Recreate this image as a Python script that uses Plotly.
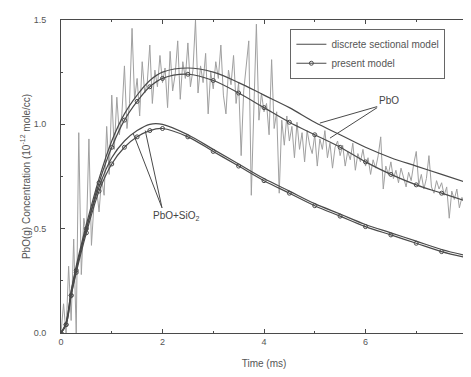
import plotly.graph_objects as go

# ---- data ----
t_model = [0, 0.1, 0.2, 0.3, 0.5, 0.75, 1.0, 1.25, 1.5, 1.75, 2.0, 2.5, 3.0, 3.5,
           4.0, 4.5, 5.0, 5.5, 6.0, 6.5, 7.0, 7.5, 8.0]
pbo_discrete = [0, 0.05, 0.20, 0.32, 0.52, 0.74, 0.92, 1.05, 1.14, 1.21, 1.25, 1.27, 1.25, 1.20,
                1.14, 1.08, 1.01, 0.95, 0.89, 0.84, 0.80, 0.76, 0.72]
pbo_present = [0, 0.04, 0.18, 0.30, 0.50, 0.72, 0.89, 1.02, 1.11, 1.18, 1.22, 1.24, 1.21, 1.15,
               1.08, 1.01, 0.95, 0.89, 0.82, 0.76, 0.71, 0.67, 0.63]
sio2_discrete = [0, 0.05, 0.20, 0.31, 0.50, 0.70, 0.84, 0.92, 0.97, 1.00, 1.00, 0.95, 0.88, 0.81,
                 0.74, 0.68, 0.62, 0.57, 0.52, 0.48, 0.44, 0.40, 0.37]
sio2_present = [0, 0.04, 0.18, 0.29, 0.48, 0.68, 0.81, 0.89, 0.94, 0.97, 0.98, 0.94, 0.87, 0.80,
                0.73, 0.67, 0.61, 0.56, 0.51, 0.47, 0.43, 0.39, 0.36]

t_noisy = [round(i * 0.05, 2) for i in range(161)]
pbo_noisy = [
    0.00, 0.14, 0.00, 0.32, 0.06, 0.45, 0.00, 0.96, 0.28, 0.55,
    0.47, 0.93, 0.42, 0.62, 0.70, 0.58, 0.74, 0.66, 0.99, 0.76,
    1.14, 0.88, 1.13, 0.95, 1.05, 1.28, 0.98, 1.10, 1.46, 1.12,
    1.22, 1.04, 1.30, 1.15, 1.20, 1.38, 1.10, 1.26, 1.18, 1.33,
    1.20, 1.27, 1.08, 1.35, 1.16, 1.24, 1.40, 1.12, 1.30, 1.22,
    1.39, 1.18, 1.26, 1.50, 1.15, 1.28, 1.20, 1.34, 1.05, 1.25,
    1.17, 1.30, 1.22, 1.38, 1.14, 1.05, 1.26, 1.19, 1.33, 1.10,
    1.20, 0.85, 1.16, 1.28, 1.40, 0.66, 1.12, 1.48, 1.02, 1.15,
    1.06, 1.10, 0.95, 1.31, 0.98, 1.06, 0.67, 1.02, 0.90, 1.04,
    0.92, 0.99, 0.84, 1.01, 0.88, 0.96, 0.82, 0.97, 0.90, 0.86,
    0.95, 0.80, 0.93, 0.88, 0.97, 0.84, 0.91, 0.79, 0.89, 0.92,
    0.85, 0.90, 0.80, 0.87, 0.83, 0.91, 0.78, 0.86, 0.82, 0.88,
    0.80, 0.84, 0.76, 0.83, 0.79, 0.85, 0.94, 0.69, 0.80, 0.76,
    0.82, 0.74, 0.78, 0.72, 0.79, 0.75, 0.70, 0.77, 0.73, 0.81,
    0.87, 0.71, 0.76, 0.69, 0.74, 0.85, 0.70, 0.67, 0.73, 0.69,
    0.72, 0.66, 0.70, 0.55, 0.68, 0.64, 0.69, 0.60, 0.65, 0.62,
    0.58,
]

x_ticks = [0, 2, 4, 6, 8]
x_tick_labels = ["0", "2", "4", "6", "8"]
y_ticks = [0.0, 0.5, 1.0, 1.5]
y_tick_labels = ["0.0", "0.5", "1.0", "1.5"]

FONT = "Liberation Sans, Arial, sans-serif"
LINE = "#4a4a4a"
TXT = "#555555"

fig = go.Figure()

fig.add_trace(go.Scatter(x=t_noisy, y=pbo_noisy, mode="lines", showlegend=False,
                         line=dict(color="#a0a0a0", width=1)))

fig.add_trace(go.Scatter(x=t_model, y=pbo_discrete, mode="lines", name="discrete sectional model",
                         line=dict(color=LINE, width=1.2, shape="spline")))
fig.add_trace(go.Scatter(x=t_model, y=sio2_discrete, mode="lines", showlegend=False,
                         line=dict(color=LINE, width=1.2, shape="spline")))
fig.add_trace(go.Scatter(x=t_model, y=pbo_present, mode="lines+markers", name="present model",
                         line=dict(color=LINE, width=1.2, shape="spline"),
                         marker=dict(symbol="circle-open", size=4, color=LINE, line=dict(width=1))))
fig.add_trace(go.Scatter(x=t_model, y=sio2_present, mode="lines+markers", showlegend=False,
                         line=dict(color=LINE, width=1.2, shape="spline"),
                         marker=dict(symbol="circle-open", size=4, color=LINE, line=dict(width=1))))

# label leader lines
lines = [((6.23, 1.085), (5.10, 1.006)), ((6.23, 1.08), (5.30, 0.934)),
         ((1.99, 0.60), (1.42, 0.958)), ((1.99, 0.60), (1.66, 0.97))]
for (x0, y0), (x1, y1) in lines:
    fig.add_shape(type="line", x0=x0, y0=y0, x1=x1, y1=y1, xref="x", yref="y",
                  line=dict(color=LINE, width=1))

fig.add_annotation(x=6.23, y=1.08, text="PbO", showarrow=False, xanchor="left", yanchor="bottom",
                   font=dict(family=FONT, size=10, color="#444"))
fig.add_annotation(x=1.77, y=0.60, text="PbO+SiO<sub>2</sub>", showarrow=False, xanchor="left",
                   yanchor="top", font=dict(family=FONT, size=10, color="#444"))

fig.update_layout(
    width=471, height=377,
    margin=dict(l=53, r=12, t=12, b=52, autoexpand=False),
    paper_bgcolor="white", plot_bgcolor="white",
    font=dict(family=FONT, color=TXT),
    legend=dict(x=0.565, y=0.972, xanchor="left", yanchor="top",
                bgcolor="white", bordercolor="#666", borderwidth=1,
                font=dict(family=FONT, size=10, color="#555"),
                itemwidth=30, tracegroupgap=0),
)
fig.update_xaxes(range=[0, 8], tickvals=x_ticks, ticktext=x_tick_labels, automargin=False,
                 ticks="inside", ticklen=4, tickcolor=LINE, showline=True, linecolor=LINE,
                 linewidth=1, mirror="ticks", showgrid=False, zeroline=False,
                 minor=dict(dtick=1, ticks="inside", ticklen=2, tickcolor=LINE),
                 tickfont=dict(family=FONT, size=9, color=TXT),
                 title=dict(text="Time (ms)", font=dict(family=FONT, size=10, color=TXT), standoff=14))
fig.update_yaxes(range=[0, 1.5], tickvals=y_ticks, ticktext=y_tick_labels, automargin=False,
                 ticks="inside", ticklen=4, tickcolor=LINE, showline=True, linecolor=LINE,
                 linewidth=1, mirror="ticks", showgrid=False, zeroline=False,
                 minor=dict(dtick=0.25, ticks="inside", ticklen=2, tickcolor=LINE),
                 tickfont=dict(family=FONT, size=9, color=TXT), ticklabelstandoff=12,
                 title=dict(text="PbO(g) Concentration (10<sup>-12</sup> mole/cc)",
                            font=dict(family=FONT, size=10, color=TXT), standoff=1))

fig.write_html("out.html")
